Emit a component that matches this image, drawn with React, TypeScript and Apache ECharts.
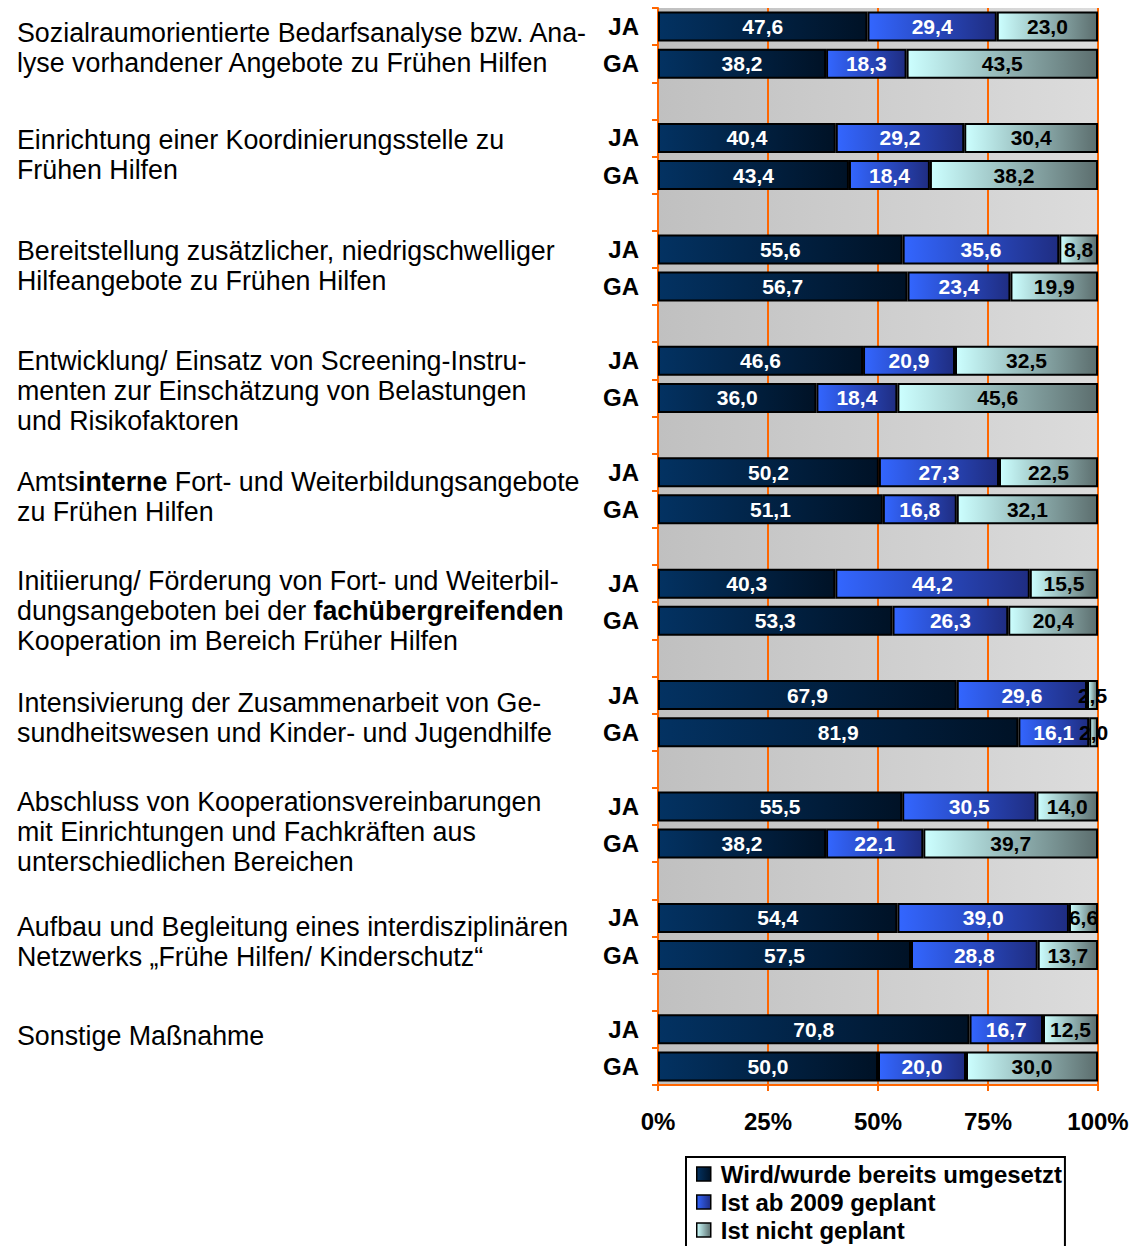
import React, { useEffect, useRef } from "react";
import * as echarts from "echarts";

const measures = [
  "Sozialraumorientierte Bedarfsanalyse bzw. Ana-\nlyse vorhandener Angebote zu Frühen Hilfen",
  "Einrichtung einer Koordinierungsstelle zu\nFrühen Hilfen",
  "Bereitstellung zusätzlicher, niedrigschwelliger\nHilfeangebote zu Frühen Hilfen",
  "Entwicklung/ Einsatz von Screening-Instru-\nmenten zur Einschätzung von Belastungen\nund Risikofaktoren",
  "Amts{b|interne} Fort- und Weiterbildungsangebote\nzu Frühen Hilfen",
  "Initiierung/ Förderung von Fort- und Weiterbil-\ndungsangeboten bei der {b|fachübergreifenden}\nKooperation im Bereich Früher Hilfen",
  "Intensivierung der Zusammenarbeit von Ge-\nsundheitswesen und Kinder- und Jugendhilfe",
  "Abschluss von Kooperationsvereinbarungen\nmit Einrichtungen und Fachkräften aus\nunterschiedlichen Bereichen",
  "Aufbau und Begleitung eines interdisziplinären\nNetzwerks „Frühe Hilfen/ Kinderschutz“",
  "Sonstige Maßnahme",
];

const rowLabels = ["JA", "GA"];

const jaDone = [47.6, 40.4, 55.6, 46.6, 50.2, 40.3, 67.9, 55.5, 54.4, 70.8];
const jaPlanned = [29.4, 29.2, 35.6, 20.9, 27.3, 44.2, 29.6, 30.5, 39.0, 16.7];
const jaNot = [23.0, 30.4, 8.8, 32.5, 22.5, 15.5, 2.5, 14.0, 6.6, 12.5];

const gaDone = [38.2, 43.4, 56.7, 36.0, 51.1, 53.3, 81.9, 38.2, 57.5, 50.0];
const gaPlanned = [18.3, 18.4, 23.4, 18.4, 16.8, 26.3, 16.1, 22.1, 28.8, 20.0];
const gaNot = [43.5, 38.2, 19.9, 45.6, 32.1, 20.4, 2.0, 39.7, 13.7, 30.0];

const seriesNames = [
  "Wird/wurde bereits umgesetzt",
  "Ist ab 2009 geplant",
  "Ist nicht geplant",
];

// layout nudges (px) of each description's first line relative to its JA row
const descNudge = [6, 2, 2, 0, 10, -3, 8, -4, 9, 7];

const FONT = '"Liberation Sans", Arial, Helvetica, sans-serif';
const ORANGE = "#ff6600";

export default function App() {
  const ref = useRef<HTMLDivElement>(null);

  useEffect(() => {
    if (!ref.current) return;
    const chart = echarts.init(ref.current, undefined, { renderer: "svg" });

    const cats: string[] = [];
    const sDone: (number | null)[] = [];
    const sPlanned: (number | null)[] = [];
    const sNot: (number | null)[] = [];
    const jaIndex: number[] = [];
    for (let g = 0; g < measures.length; g++) {
      jaIndex.push(cats.length);
      cats.push(rowLabels[0]);
      sDone.push(jaDone[g]);
      sPlanned.push(jaPlanned[g]);
      sNot.push(jaNot[g]);
      cats.push(rowLabels[1]);
      sDone.push(gaDone[g]);
      sPlanned.push(gaPlanned[g]);
      sNot.push(gaNot[g]);
      if (g < measures.length - 1) {
        cats.push("");
        sDone.push(null);
        sPlanned.push(null);
        sNot.push(null);
      }
    }

    const grad = (a: string, b: string) =>
      new echarts.graphic.LinearGradient(0, 0, 1, 0, [
        { offset: 0, color: a },
        { offset: 1, color: b },
      ]);

    const fills = [
      grad("#033262", "#001226"),
      grad("#3366ff", "#1f2d82"),
      grad("#ccffff", "#5c6e6e"),
    ];
    const labelColors = ["#ffffff", "#ffffff", "#000000"];
    const dataSets = [sDone, sPlanned, sNot];

    const fmt = (v: any) =>
      v == null || v === "-" ? "" : Number(v).toFixed(1).replace(".", ",");

    chart.setOption({
      animation: false,
      grid: {
        left: 658,
        top: 8,
        width: 440,
        height: 1077,
        show: true,
        borderWidth: 0,
        backgroundColor: grad("#c0c0c0", "#dcdcdc"),
      },
      legend: {
        orient: "vertical",
        left: 686,
        top: 1157,
        height: 120,
        padding: [5, 3, 6, 10],
        itemGap: 4,
        itemWidth: 14,
        itemHeight: 14,
        borderColor: "#000",
        borderWidth: 2,
        backgroundColor: "#fff",
        icon: "rect",
        itemStyle: { borderColor: "#000", borderWidth: 1.5 },
        textStyle: {
          fontFamily: FONT,
          fontSize: 24,
          fontWeight: "bold",
          color: "#000",
          padding: [0, 0, 0, 5],
        },
        data: seriesNames,
      },
      xAxis: {
        type: "value",
        min: 0,
        max: 100,
        interval: 25,
        axisLine: { show: true, lineStyle: { color: ORANGE, width: 2 } },
        axisTick: { show: true, length: 6, lineStyle: { color: ORANGE, width: 2 } },
        splitLine: { show: true, lineStyle: { color: ORANGE, width: 2 } },
        axisLabel: {
          formatter: "{value}%",
          margin: 24,
          fontFamily: FONT,
          fontSize: 24,
          fontWeight: "bold",
          color: "#000",
        },
      },
      yAxis: {
        type: "category",
        inverse: true,
        data: cats,
        axisLine: { show: true, lineStyle: { color: ORANGE, width: 2 } },
        axisTick: {
          show: true,
          interval: 0,
          length: 6,
          lineStyle: { color: ORANGE, width: 2 },
        },
        axisLabel: {
          interval: 0,
          margin: 19,
          fontFamily: FONT,
          fontSize: 24,
          fontWeight: "bold",
          color: "#000",
        },
      },
      series: seriesNames.map((name, i) => ({
        name,
        type: "bar",
        stack: "total",
        barWidth: 30,
        data: dataSets[i],
        itemStyle: {
          color: fills[i],
          borderColor: "#000",
          borderWidth: 2,
        },
        label: {
          show: true,
          position: "inside",
          formatter: (p: any) => fmt(p.value),
          fontFamily: FONT,
          fontSize: 21,
          fontWeight: "bold",
          color: labelColors[i],
        },
      })),
    });

    const graphics = measures.map((text, g) => {
      const y = chart.convertToPixel({ yAxisIndex: 0 }, jaIndex[g]) as number;
      return {
        type: "text",
        left: 17,
        top: y + descNudge[g] - 15,
        silent: true,
        style: {
          text,
          fontFamily: FONT,
          fontSize: 26.8,
          lineHeight: 30,
          fill: "#000",
          rich: {
            b: {
              fontFamily: FONT,
              fontSize: 26.8,
              fontWeight: "bold",
              lineHeight: 30,
            },
          },
        },
      };
    });
    chart.setOption({ graphic: graphics });

    return () => chart.dispose();
  }, []);

  return (
    <div
      ref={ref}
      style={{ position: "absolute", left: 0, top: 0, width: 1142, height: 1246 }}
    />
  );
}
